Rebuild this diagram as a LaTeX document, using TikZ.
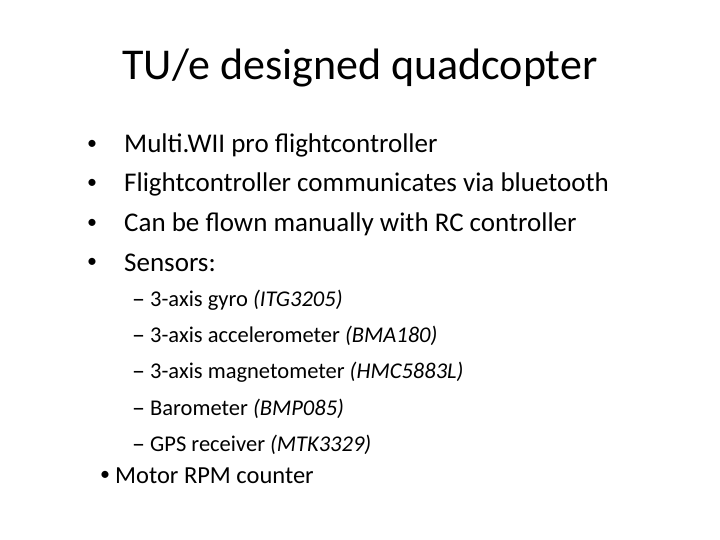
\documentclass[tikz,border=0pt]{standalone}
\usepackage{fontspec}
\setmainfont{Carlito}
\begin{document}
\begin{tikzpicture}[x=1pt,y=-1pt,
  title/.style={font=\fontsize{44}{48}\selectfont},
  lvl/.style={anchor=west,inner sep=0,font=\fontsize{27}{32}\selectfont},
  bul/.style={anchor=west,inner sep=0,font=\fontsize{20}{24}\selectfont},
  dsh/.style={anchor=west,inner sep=0,font=\fontsize{26}{26}\selectfont},
  sub/.style={anchor=west,inner sep=0,font=\fontsize{22.5}{26}\selectfont},
  last/.style={anchor=west,inner sep=0,font=\fontsize{24.5}{30}\selectfont}]
\useasboundingbox[fill=white] (0,0) rectangle (720,540);
\node[title] (t) at (360,68) {TU/e designed quadcopter};
\foreach \y/\txt [count=\i] in {145/Multi.WII pro flightcontroller,184/Flightcontroller communicates via bluetooth,224/Can be flown manually with RC controller,263/Sensors:}{
  \node[bul] (b\i) at (87,\y) {•};
  \node[lvl] (l\i) at (124,\y) {\txt};
}
\foreach \y/\txt [count=\i] in {300/3-axis gyro \textit{(ITG3205)},336/3-axis accelerometer \textit{(BMA180)},372/3-axis magnetometer \textit{(HMC5883L)},409/Barometer \textit{(BMP085)},445/GPS receiver \textit{(MTK3329)}}{
  \node[sub] (s\i) at (150,\y) {\txt};
  \node[dsh,anchor=base west] (d\i) at (132,{\y+7}) {–};
}
\node[bul] (b5) at (100,476) {•};
\node[last] (l5) at (115,476) {Motor RPM counter};
\end{tikzpicture}
\end{document}
